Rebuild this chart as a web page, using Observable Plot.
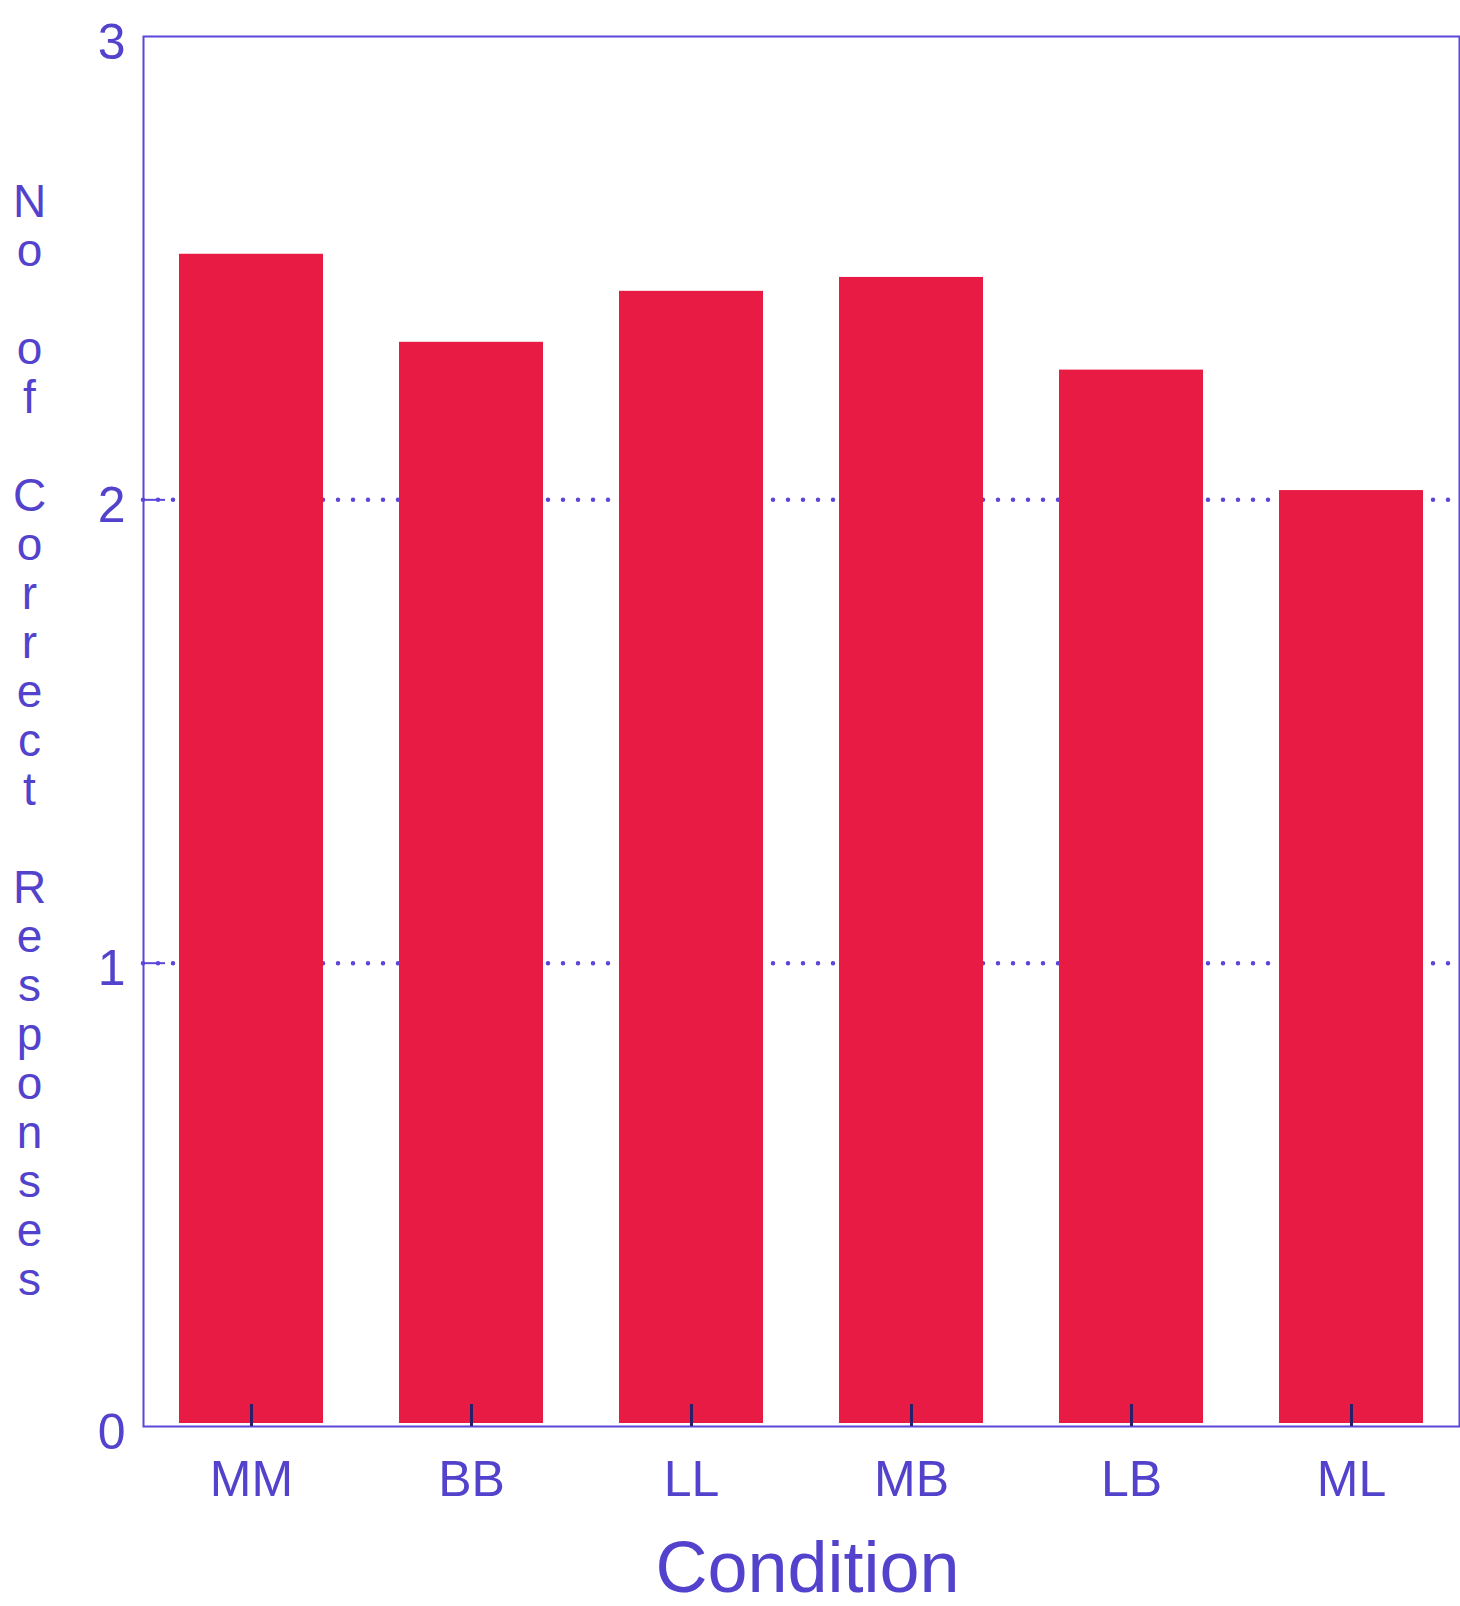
<!DOCTYPE html>
<html>
<head>
<meta charset="utf-8">
<script src="https://cdn.jsdelivr.net/npm/d3@7"></script>
<script src="https://cdn.jsdelivr.net/npm/@observablehq/plot@0.6"></script>
<style>
  html, body { margin: 0; padding: 0; background: #ffffff; }
  #chart svg { display: block; }
</style>
</head>
<body>
<div id="chart"></div>
<script>
const categories = ["MM", "BB", "LL", "MB", "LB", "ML"];
const values = [2.53, 2.34, 2.45, 2.48, 2.28, 2.02];
const yTicks = [0, 1, 2, 3];
const gridTicks = [1, 2];
const yTitle = "No of Correct Responses";
const xTitle = "Condition";

const data = categories.map((c, i) => ({ condition: c, value: values[i] }));

const axisColor = "#5a46d8";
const textColor = "#5242cc";
const barColor = "#e81b45";
const font = "Liberation Sans, Arial, sans-serif";

const chart = Plot.plot({
  width: 1460,
  height: 1606,
  marginTop: 36,
  marginBottom: 180,
  marginLeft: 143,
  marginRight: 1,
  style: { fontFamily: font, background: "#ffffff" },
  x: { domain: categories, paddingInner: 0.346, paddingOuter: 0.16 },
  y: { domain: [0, 3] },
  marks: [
    Plot.gridY(gridTicks, {
      stroke: axisColor, strokeOpacity: 1, strokeWidth: 4.5,
      strokeDasharray: "0 15", strokeLinecap: "round"
    }),
    Plot.barY(data, { x: "condition", y: "value", fill: barColor, insetBottom: 3 }),
    Plot.frame({ stroke: axisColor, strokeWidth: 2 }),
    Plot.axisY(yTicks, {
      anchor: "left", tickSize: 0, tickPadding: 18, fontSize: 50, tickFormat: "d",
      fill: textColor, dy: 6, label: null
    }),
    Plot.axisY(gridTicks, {
      anchor: "left", tickSize: -22, text: null, stroke: axisColor, strokeWidth: 2, label: null
    }),
    Plot.axisX({
      anchor: "bottom", tickSize: -22, stroke: "#2a1d6a", strokeWidth: 3,
      tickPadding: 56, fontSize: 50, fill: textColor, label: null
    }),
    Plot.text([xTitle], {
      frameAnchor: "bottom", dy: 142, dx: 6, fontSize: 72, fill: textColor, lineAnchor: "middle"
    }),
    Plot.text([yTitle.split("").join("\n")], {
      frameAnchor: "left", dx: -114, dy: 9, fontSize: 46, lineHeight: 1.065,
      fill: textColor, textAnchor: "middle", lineAnchor: "middle"
    })
  ]
});

document.getElementById("chart").appendChild(chart);
</script>
</body>
</html>
